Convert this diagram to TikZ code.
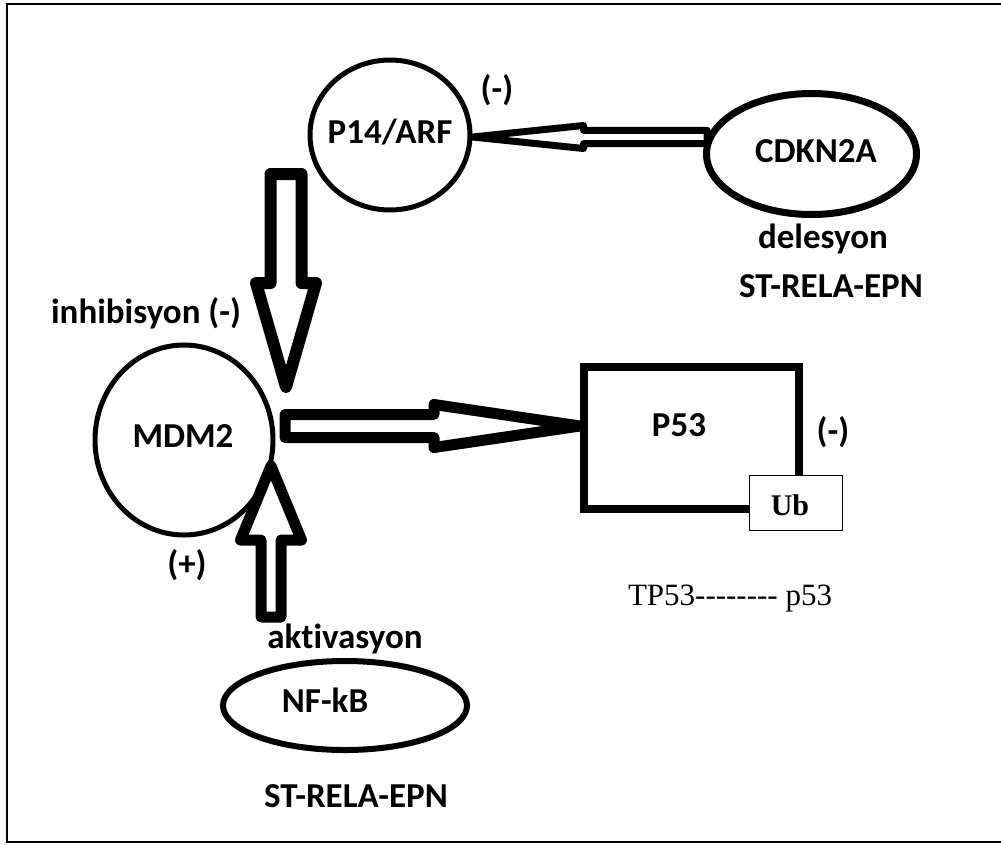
\documentclass[tikz,border=0pt]{standalone}
\usepackage{fontspec}
\setmainfont{Carlito}[Ligatures=NoCommon]
\newfontfamily\timesf{Liberation Serif}
\usetikzlibrary{shapes.geometric,calc}
% hollow block arrow: [opts]{tail}{tip}{shaft half width}{head half width}{head length}
\newcommand\harrow[6][]{%
  \draw[harrowst,#1]
    ($(#2)!#4!90:(#3)$) --
    ($(#3)!#6!(#2)!#4!-90:(#2)$) --
    ($(#3)!#6!(#2)!#5!-90:(#2)$) --
    (#3) --
    ($(#3)!#6!(#2)!#5!90:(#2)$) --
    ($(#3)!#6!(#2)!#4!90:(#2)$) --
    ($(#2)!#4!-90:(#3)$) -- cycle;}
\begin{document}
\begin{tikzpicture}[x=1pt,y=-1pt,
  lbl/.style={font=\fontsize{35}{40}\selectfont\bfseries, inner sep=0pt},
  blbl/.style={lbl, anchor=base},
  blob/.style={ellipse, draw, line width=5pt, inner sep=0pt},
  harrowst/.style={draw, fill=white, line width=12pt, line join=round},
  serif/.style={font=\timesf\fontsize{31}{36}\selectfont, inner sep=0pt, anchor=base}]
\useasboundingbox (0,0) rectangle (1001,844);
% frame
\draw[line width=2.5pt] (1010,4) -- (7,4) -- (7,842) -- (1010,842);

% shapes
\node[blob, minimum width=160pt, minimum height=150pt] (p14) at (390,135) {};
\node[blob, line width=7pt, minimum width=210pt, minimum height=121pt] (cdkn) at (811.5,154) {};
\node[blob, minimum width=178pt, minimum height=190pt] (mdm) at (184,440) {};
\node[blob, line width=6pt, minimum width=244pt, minimum height=89pt] (nfkb) at (345,705.5) {};
\node[draw, line width=8pt, minimum width=215pt, minimum height=142pt, inner sep=0pt] (p53) at (691.5,438) {};
\node[draw, line width=1.3pt, fill=white, minimum width=93pt, minimum height=55pt,
      inner sep=0pt] (ub) at (796,503) {};

% texts
\node[blbl] (p14t) at (390,143) {P14/ARF};
\node[blbl] (cdknt) at (816,162) {CDKN2A};
\node[blbl] (mdmt) at (183,447) {MDM2};
\node[blbl] (nfkbt) at (325,712) {NF-kB};
\node[blbl] (p53t) at (679,436) {P53};
\node[font=\timesf\bfseries\fontsize{30}{34}\selectfont, inner sep=0pt, anchor=base] (ubt) at (790,515) {Ub};
\node[lbl] (m1) at (497,90) {(-)};
\node[blbl] (del) at (823,248) {delesyon};
\node[blbl] (st1) at (831,297) {ST-RELA-EPN};
\node[blbl] (inh) at (146,323) {inhibisyon (-)};
\node[lbl] (plus) at (187,565) {(+)};
\node[lbl] (m2) at (833,432) {(-)};
\node[blbl] (akt) at (345,648) {aktivasyon};
\node[blbl] (st2) at (356,807) {ST-RELA-EPN};
\node[serif] (tp) at (730,605) {TP53-------- p53};

% connector end points
\coordinate (ctail) at (707,137);
\coordinate (ctip) at (p14.east |- 0,137);
\coordinate (dtail) at (286,174);
\coordinate (dtip) at (286,387);
\coordinate (rtail) at (285,426);
\coordinate (rtip) at (p53.west |- 0,426);
\coordinate (utail) at (271,617);
\coordinate (utip) at (271,466);

% hollow arrows
\harrow[line width=7pt]{ctail}{ctip}{6.7pt}{11.5pt}{111pt}
\harrow{dtail}{dtip}{15.5pt}{30pt}{104pt}
\harrow[line width=11pt]{rtail}{rtip}{11.5pt}{21.5pt}{146pt}
\harrow[line width=11pt]{utail}{utip}{10pt}{30.5pt}{74pt}
\end{tikzpicture}
\end{document}
